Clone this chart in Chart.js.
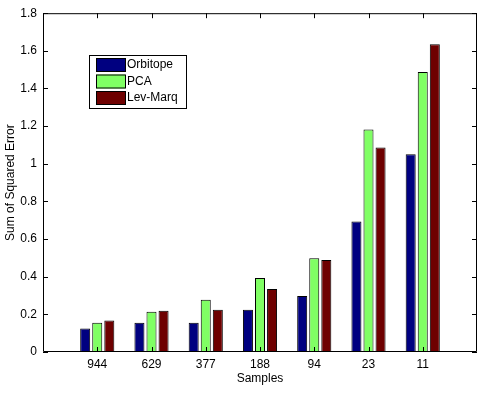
<!DOCTYPE html>
<html>
<head>
<meta charset="utf-8">
<script src="https://cdn.jsdelivr.net/npm/chart.js@4/dist/chart.umd.min.js"></script>
<style>
  body { margin: 0; background: #fff; }
  canvas { display: block; }
</style>
</head>
<body>
<canvas id="errChart" width="482" height="398"></canvas>
<script>
const samples = ['944', '629', '377', '188', '94', '23', '11'];
const orbitope = [0.125, 0.156, 0.156, 0.225, 0.298, 0.693, 1.051];
const pca = [0.156, 0.214, 0.277, 0.393, 0.498, 1.182, 1.488];
const levMarq = [0.167, 0.219, 0.225, 0.335, 0.489, 1.087, 1.635];
const yTicks = [0, 0.2, 0.4, 0.6, 0.8, 1, 1.2, 1.4, 1.6, 1.8];

const FONT = 'Liberation Sans, Arial, Helvetica, sans-serif';

// empty slot on each side so the axis runs from 0 to 8 like the original
const labels = [''].concat(samples, ['']);
function pad(arr) { return [null].concat(arr, [null]); }

function series(label, data, color) {
  return {
    label: label,
    data: pad(data),
    backgroundColor: color,
    borderColor: '#000',
    borderWidth: 1,
    borderSkipped: false,
    inflateAmount: 0,
    categoryPercentage: 0.667,
    barPercentage: 0.83
  };
}

// box, inward tick marks and the legend, drawn the way the original figure does
const framePlugin = {
  id: 'frame',
  afterDatasetsDraw(chart) {
    const ctx = chart.ctx;
    const a = chart.chartArea;
    const x = chart.scales.x, y = chart.scales.y;
    ctx.save();
    ctx.strokeStyle = '#000';
    ctx.lineWidth = 1;
    ctx.beginPath();
    ctx.rect(a.left + 0.5, a.top + 0.5, a.right - a.left - 1, a.bottom - a.top - 1);
    for (let i = 1; i <= samples.length; i++) {
      const px = Math.round(x.getPixelForValue(i)) + 0.5;
      ctx.moveTo(px, a.bottom); ctx.lineTo(px, a.bottom - 5);
      ctx.moveTo(px, a.top); ctx.lineTo(px, a.top + 5);
    }
    yTicks.forEach(v => {
      const py = Math.round(y.getPixelForValue(v)) + 0.5;
      ctx.moveTo(a.left, py); ctx.lineTo(a.left + 5, py);
      ctx.moveTo(a.right, py); ctx.lineTo(a.right - 5, py);
    });
    ctx.stroke();

    // legend
    const lx = 89, ly = 55, lw = 97, lh = 53;
    ctx.fillStyle = '#fff';
    ctx.fillRect(lx, ly, lw, lh);
    ctx.strokeRect(lx + 0.5, ly + 0.5, lw, lh);
    ctx.font = '12px ' + FONT;
    ctx.textBaseline = 'middle';
    chart.data.datasets.forEach((ds, i) => {
      const sy = ly + 3 + i * 16.5;
      ctx.fillStyle = ds.backgroundColor;
      ctx.fillRect(lx + 7, sy, 29, 14);
      ctx.strokeRect(lx + 7.5, sy + 0.5, 29, 13);
      ctx.fillStyle = '#000';
      ctx.fillText(ds.label, lx + 38, sy + 7);
    });
    ctx.restore();
  }
};

new Chart(document.getElementById('errChart'), {
  type: 'bar',
  data: {
    labels: labels,
    datasets: [
      series('Orbitope', orbitope, '#000080'),
      series('PCA', pca, '#80ff64'),
      series('Lev-Marq', levMarq, '#6e0000')
    ]
  },
  options: {
    responsive: false,
    animation: false,
    devicePixelRatio: 1,
    layout: { padding: { top: 10, right: 5, left: 0, bottom: 0 } },
    plugins: {
      legend: { display: false },
      tooltip: { enabled: false }
    },
    scales: {
      x: {
        offset: false,
        grid: { display: false, drawTicks: false, offset: false },
        border: { display: false },
        ticks: {
          color: '#000',
          font: { family: FONT, size: 12 },
          padding: 5,
          maxRotation: 0,
          autoSkip: false
        },
        title: {
          display: true,
          text: 'Samples',
          color: '#000',
          font: { family: FONT, size: 12 },
          padding: { top: 0, bottom: 12 }
        },
        afterFit: s => { s.height = 46; }
      },
      y: {
        min: 0,
        max: 1.8,
        grid: { display: false, drawTicks: false },
        border: { display: false },
        afterBuildTicks: s => { s.ticks = yTicks.map(v => ({ value: v })); },
        ticks: {
          color: '#000',
          font: { family: FONT, size: 12 },
          padding: 6,
          callback: v => String(+v.toFixed(1))
        },
        title: {
          display: true,
          text: 'Sum of Squared Error',
          color: '#000',
          font: { family: FONT, size: 12 },
          padding: { top: 3, bottom: 0 }
        },
        afterFit: s => { s.width = 43; }
      }
    }
  },
  plugins: [framePlugin]
});
</script>
</body>
</html>
